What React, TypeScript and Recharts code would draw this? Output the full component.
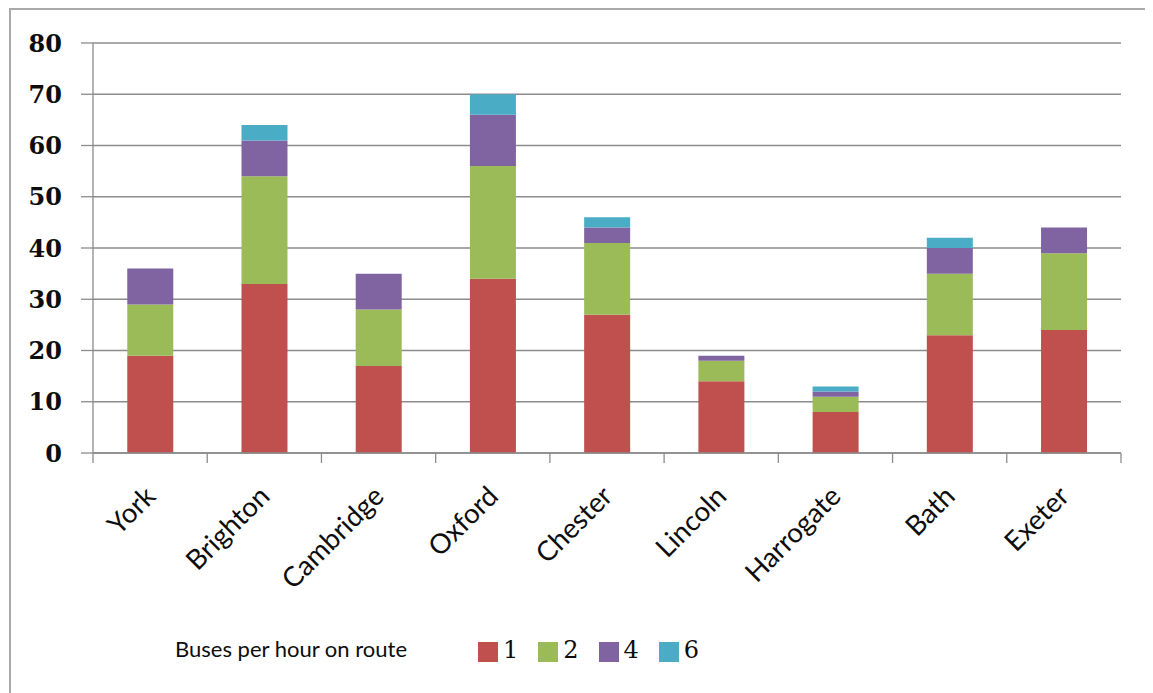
import React from "react";
import { Bar, BarChart, CartesianGrid, XAxis, YAxis } from "recharts";

// Buses per hour on route, per city (stacked by route frequency)
const cities = ["York", "Brighton", "Cambridge", "Oxford", "Chester", "Lincoln", "Harrogate", "Bath", "Exeter"];
const route1 = [19, 33, 17, 34, 27, 14, 8, 23, 24];
const route2 = [10, 21, 11, 22, 14, 4, 3, 12, 15];
const route4 = [7, 7, 7, 10, 3, 1, 1, 5, 5];
const route6 = [0, 3, 0, 4, 2, 0, 1, 2, 0];
const yTicks = [0, 10, 20, 30, 40, 50, 60, 70, 80];
const seriesNames = ["1", "2", "4", "6"];
const seriesColors = ["#C0504D", "#9BBB59", "#8064A2", "#4BACC6"];

const data = cities.map((city, i) => ({
  city,
  "1": route1[i],
  "2": route2[i],
  "4": route4[i],
  "6": route6[i],
}));

const CHART_W = 1145;
const CHART_H = 685;
const PLOT_LEFT = 84;
const PLOT_RIGHT = 1112;
const BAND = (PLOT_RIGHT - PLOT_LEFT) / cities.length;
const GRID = "#8c8c8c";
const SANS = "Lato, 'Open Sans', sans-serif";
const SERIF = "'DejaVu Serif', 'Liberation Serif', serif";

function CityTick(props: any) {
  const { x, y, payload, index } = props;
  const left = x - BAND / 2;
  return (
    <g>
      <line x1={left} y1={y} x2={left} y2={y + 10} stroke={GRID} strokeWidth={1.3} />
      {index === cities.length - 1 && (
        <line x1={x + BAND / 2} y1={y} x2={x + BAND / 2} y2={y + 10} stroke={GRID} strokeWidth={1.3} />
      )}
      <g transform={`translate(${x + 7},${y + 45})`}>
        <text transform="rotate(-45)" textAnchor="end" fontFamily={SANS} fontSize={27.5} fill="#0d0d0d">
          {payload.value}
        </text>
      </g>
    </g>
  );
}

export default function App() {
  return (
    <div
      style={{
        position: "relative",
        width: CHART_W,
        height: CHART_H,
        boxSizing: "border-box",
        borderTop: "2px solid #a9a9a9",
        borderLeft: "2px solid #a9a9a9",
        marginLeft: 1,
        background: "#fff",
      }}
    >
      <div style={{ position: "absolute", top: -2, left: -2 }}>
        <BarChart
          width={CHART_W}
          height={CHART_H}
          data={data}
          margin={{ top: 35, right: CHART_W - PLOT_RIGHT, left: 0, bottom: 0 }}
          barCategoryGap="30%"
        >
          <CartesianGrid vertical={false} stroke={GRID} strokeWidth={1.3} />
          <XAxis
            dataKey="city"
            interval={0}
            height={240}
            tickSize={0}
            tickMargin={0}
            axisLine={{ stroke: GRID, strokeWidth: 1.3 }}
            tick={<CityTick />}
          />
          <YAxis
            width={PLOT_LEFT}
            domain={[0, 80]}
            ticks={yTicks}
            interval={0}
            tickSize={12}
            tickMargin={19}
            axisLine={{ stroke: GRID, strokeWidth: 1.3 }}
            tickLine={{ stroke: GRID, strokeWidth: 1.3 }}
            tick={{ fontFamily: SERIF, fontWeight: 700, fontSize: 24, fill: "#0d0d0d" }}
          />
          {seriesNames.map((key, i) => (
            <Bar key={key} dataKey={key} stackId="a" fill={seriesColors[i]} isAnimationActive={false} />
          ))}
        </BarChart>
      </div>
      <div
        style={{
          position: "absolute",
          left: 164,
          top: 628,
          height: 24,
          display: "flex",
          alignItems: "center",
          whiteSpace: "nowrap",
        }}
      >
        <span style={{ fontFamily: SANS, fontSize: 22, color: "#0d0d0d", marginRight: 71, marginTop: -4 }}>
          Buses per hour on route
        </span>
        {seriesNames.map((name, i) => (
          <span key={name} style={{ display: "flex", alignItems: "center", marginRight: 20 }}>
            <span style={{ width: 20, height: 20, background: seriesColors[i], marginRight: 5, marginTop: 3 }} />
            <span style={{ fontFamily: SERIF, fontSize: 24, lineHeight: "24px", color: "#0d0d0d" }}>{name}</span>
          </span>
        ))}
      </div>
    </div>
  );
}
